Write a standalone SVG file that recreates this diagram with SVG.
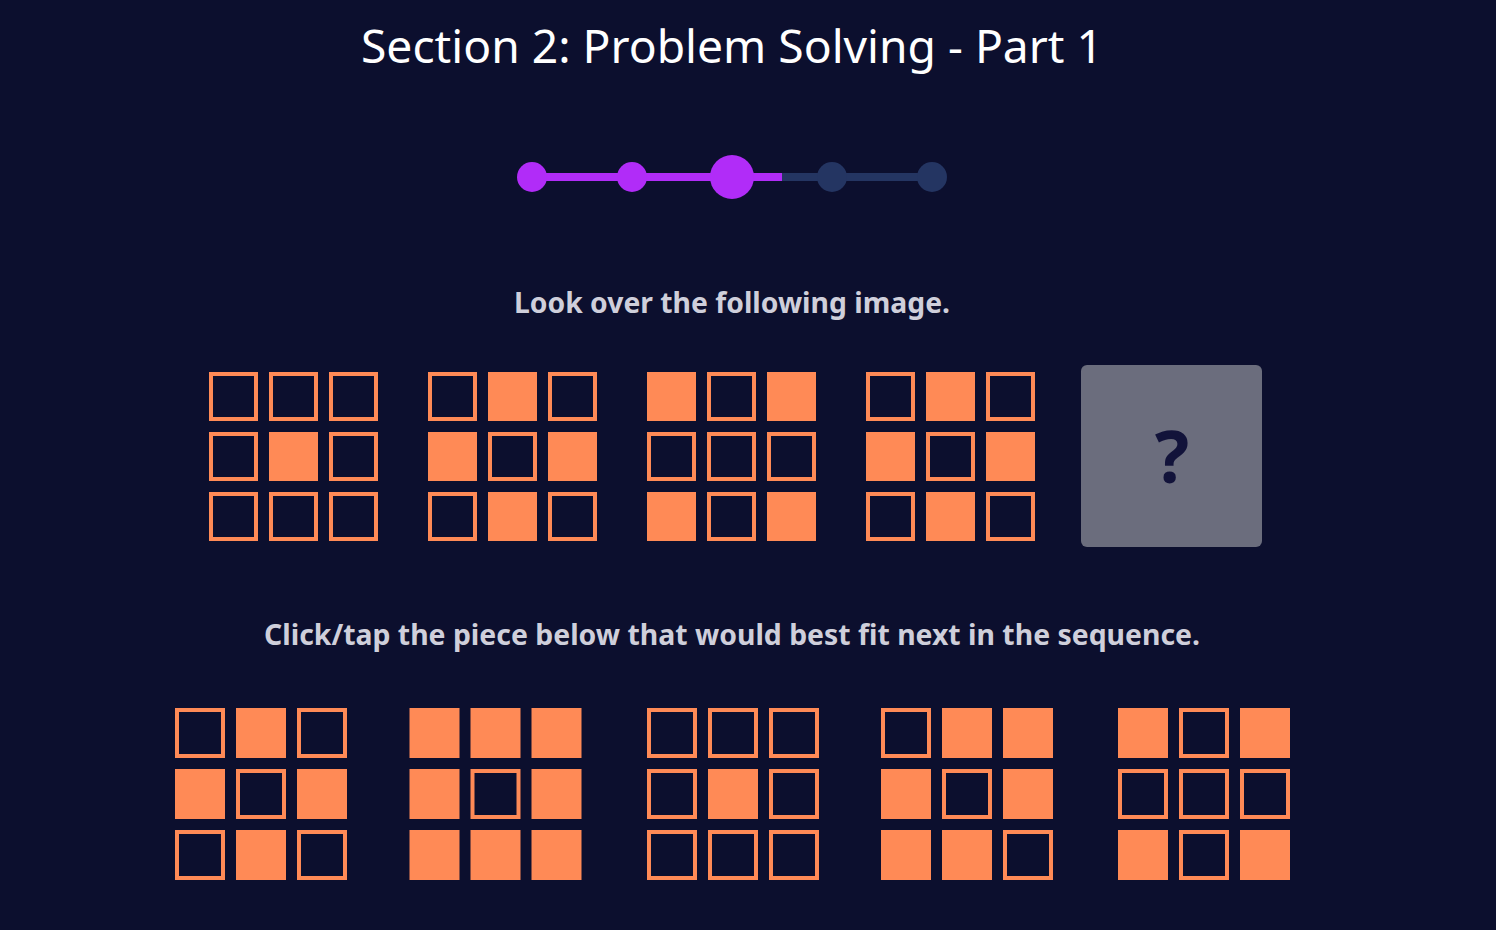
<svg xmlns="http://www.w3.org/2000/svg" width="1496" height="930" viewBox="0 0 1496 930">
<defs>
<style>
.bg{fill:#0c0f2e}
.on{fill:#ff8a56}
.off{fill:none;stroke:#ff8a56;stroke-width:4}
.title{font-family:"Noto Sans","Open Sans",sans-serif;font-size:46px;fill:#ffffff}
.inst{font-family:"Noto Sans","Open Sans",sans-serif;font-weight:bold;font-size:28px;fill:#cfcfdb}
.q{font-family:"Noto Sans","Open Sans",sans-serif;font-weight:bold;font-size:72px;fill:#12133a}
.done{fill:#b12cf8}
.todo{fill:#243562}
</style>
<!-- top cells 49px, bottom cells 50px -->
<rect id="tOn" width="49" height="49" class="on"/>
<rect id="tOff" x="2" y="2" width="45" height="45" class="off"/>
<rect id="bOn" width="50" height="50" class="on"/>
<rect id="bOff" x="2" y="2" width="46" height="46" class="off"/>
</defs>
<rect class="bg" width="1496" height="930"/>
<text class="title" x="732" y="63" text-anchor="middle" textLength="742" lengthAdjust="spacingAndGlyphs">Section 2: Problem Solving - Part 1</text>

<g id="progress">
<rect x="532" y="173" width="250" height="8" class="done"/>
<rect x="782" y="173" width="150" height="8" class="todo"/>
<circle cx="532" cy="177" r="15" class="done"/>
<circle cx="632" cy="177" r="15" class="done"/>
<circle cx="732" cy="177" r="22" class="done"/>
<circle cx="832" cy="177" r="15" class="todo"/>
<circle cx="932" cy="177" r="15" class="todo"/>
</g>

<text class="inst" x="732" y="313" text-anchor="middle" textLength="436" lengthAdjust="spacingAndGlyphs">Look over the following image.</text>

<g id="seq1" transform="translate(209,372)">
<use href="#tOff" x="0" y="0"/><use href="#tOff" x="60" y="0"/><use href="#tOff" x="120" y="0"/>
<use href="#tOff" x="0" y="60"/><use href="#tOn" x="60" y="60"/><use href="#tOff" x="120" y="60"/>
<use href="#tOff" x="0" y="120"/><use href="#tOff" x="60" y="120"/><use href="#tOff" x="120" y="120"/>
</g>
<g id="seq2" transform="translate(428,372)">
<use href="#tOff" x="0" y="0"/><use href="#tOn" x="60" y="0"/><use href="#tOff" x="120" y="0"/>
<use href="#tOn" x="0" y="60"/><use href="#tOff" x="60" y="60"/><use href="#tOn" x="120" y="60"/>
<use href="#tOff" x="0" y="120"/><use href="#tOn" x="60" y="120"/><use href="#tOff" x="120" y="120"/>
</g>
<g id="seq3" transform="translate(647,372)">
<use href="#tOn" x="0" y="0"/><use href="#tOff" x="60" y="0"/><use href="#tOn" x="120" y="0"/>
<use href="#tOff" x="0" y="60"/><use href="#tOff" x="60" y="60"/><use href="#tOff" x="120" y="60"/>
<use href="#tOn" x="0" y="120"/><use href="#tOff" x="60" y="120"/><use href="#tOn" x="120" y="120"/>
</g>
<g id="seq4" transform="translate(866,372)">
<use href="#tOff" x="0" y="0"/><use href="#tOn" x="60" y="0"/><use href="#tOff" x="120" y="0"/>
<use href="#tOn" x="0" y="60"/><use href="#tOff" x="60" y="60"/><use href="#tOn" x="120" y="60"/>
<use href="#tOff" x="0" y="120"/><use href="#tOn" x="60" y="120"/><use href="#tOff" x="120" y="120"/>
</g>
<g id="seq5">
<rect x="1081" y="365" width="181" height="182" rx="6" fill="#6b6d7d"/>
<text class="q" x="1172" y="483" text-anchor="middle">?</text>
</g>

<text class="inst" x="732" y="645" text-anchor="middle" textLength="936" lengthAdjust="spacingAndGlyphs">Click/tap the piece below that would best fit next in the sequence.</text>

<g id="opt1" transform="translate(175,708)">
<use href="#bOff" x="0" y="0"/><use href="#bOn" x="61" y="0"/><use href="#bOff" x="122" y="0"/>
<use href="#bOn" x="0" y="61"/><use href="#bOff" x="61" y="61"/><use href="#bOn" x="122" y="61"/>
<use href="#bOff" x="0" y="122"/><use href="#bOn" x="61" y="122"/><use href="#bOff" x="122" y="122"/>
</g>
<g id="opt2" transform="translate(409.5,708)">
<use href="#bOn" x="0" y="0"/><use href="#bOn" x="61" y="0"/><use href="#bOn" x="122" y="0"/>
<use href="#bOn" x="0" y="61"/><use href="#bOff" x="61" y="61"/><use href="#bOn" x="122" y="61"/>
<use href="#bOn" x="0" y="122"/><use href="#bOn" x="61" y="122"/><use href="#bOn" x="122" y="122"/>
</g>
<g id="opt3" transform="translate(647,708)">
<use href="#bOff" x="0" y="0"/><use href="#bOff" x="61" y="0"/><use href="#bOff" x="122" y="0"/>
<use href="#bOff" x="0" y="61"/><use href="#bOn" x="61" y="61"/><use href="#bOff" x="122" y="61"/>
<use href="#bOff" x="0" y="122"/><use href="#bOff" x="61" y="122"/><use href="#bOff" x="122" y="122"/>
</g>
<g id="opt4" transform="translate(881,708)">
<use href="#bOff" x="0" y="0"/><use href="#bOn" x="61" y="0"/><use href="#bOn" x="122" y="0"/>
<use href="#bOn" x="0" y="61"/><use href="#bOff" x="61" y="61"/><use href="#bOn" x="122" y="61"/>
<use href="#bOn" x="0" y="122"/><use href="#bOn" x="61" y="122"/><use href="#bOff" x="122" y="122"/>
</g>
<g id="opt5" transform="translate(1118,708)">
<use href="#bOn" x="0" y="0"/><use href="#bOff" x="61" y="0"/><use href="#bOn" x="122" y="0"/>
<use href="#bOff" x="0" y="61"/><use href="#bOff" x="61" y="61"/><use href="#bOff" x="122" y="61"/>
<use href="#bOn" x="0" y="122"/><use href="#bOff" x="61" y="122"/><use href="#bOn" x="122" y="122"/>
</g>
</svg>
